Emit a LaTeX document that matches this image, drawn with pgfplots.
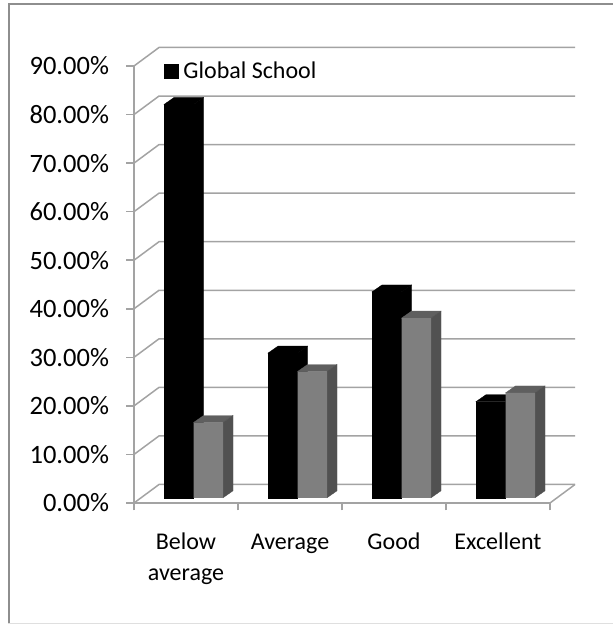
\documentclass[border=0pt]{standalone}
\usepackage{pgfplots}
\pgfplotsset{compat=1.18}
\usepackage{fontspec}
\setmainfont{Carlito}
\definecolor{gridgray}{HTML}{A3A3A3}
\definecolor{framegray}{HTML}{8E8E8E}
\definecolor{barfront}{HTML}{7F7F7F}
\definecolor{bartop}{HTML}{5F5F5F}
\definecolor{barside}{HTML}{515151}
\newcommand{\lblstrut}{\rule{0pt}{17pt}}
% Top and side faces of one 3D column: {category}{value}{left edge offset}{right edge offset}{top}{side}
\newcommand{\columnfaces}[6]{%
  \filldraw[fill=#5,draw=#5,line width=0.3pt] ([xshift=#3]axis cs:#1,#2) -- ([xshift=#3+10pt,yshift=7pt]axis cs:#1,#2)
        -- ([xshift=#4+10pt,yshift=7pt]axis cs:#1,#2) -- ([xshift=#4]axis cs:#1,#2) -- cycle;
  \filldraw[fill=#6,draw=#6,line width=0.3pt] ([xshift=#4]axis cs:#1,#2) -- ([xshift=#4+10pt,yshift=7pt]axis cs:#1,#2)
        -- ([xshift=#4+10pt,yshift=7pt]axis cs:#1,0) -- ([xshift=#4]axis cs:#1,0) -- cycle;
}
\begin{document}
\begin{tikzpicture}[x=1pt,y=1pt]
\path[use as bounding box] (0,0) rectangle (613,624);
% outer chart frame
\draw[framegray,line width=2pt] (8.7,-3) -- (8.7,620) -- (616,620);
\draw[gray!25,line width=0.8pt] (8,0.5) -- (613,0.5);
% axis frame: gridlines, ticks and labels
\begin{axis}[
  at={(134pt,121pt)}, anchor=origin, scale only axis,
  width=416pt, height=437pt,
  xmin=0, xmax=4, ymin=0, ymax=90,
  clip=false,
  axis x line*=bottom, axis y line*=left,
  axis line style={gridgray,line width=1.5pt,-},
  tick style={gridgray,line width=1.5pt},
  tick align=outside, major tick length=7.5pt,
  xtick={0,1,2,3,4}, xticklabels={},
  extra x ticks={0.5,1.5,2.5,3.5},
  extra x tick labels={\lblstrut Below\\average,\lblstrut Average,\lblstrut Good,\lblstrut Excellent},
  extra x tick style={major tick length=0pt,tick style={draw=none}},
  xticklabel style={font=\fontsize{24}{30.5}\selectfont,align=center,anchor=north,yshift=-26pt},
  ytick={0,10,...,90},
  yticklabel={\pgfmathprintnumber[assume math mode=true,fixed,fixed zerofill,precision=2]{\tick}\%},
  yticklabel style={font=\fontsize{26.5}{30}\selectfont,anchor=east,xshift=-14pt},
]
\pgfplotsinvokeforeach{0,10,20,30,40,50,60,70,80,90}{
  \draw[gridgray,line width=1.5pt] (axis cs:0,#1) -- ++(25pt,18.5pt) -- ++(416pt,0pt);
}
\draw[gridgray,line width=1.5pt] (axis cs:4,0) -- ++(25pt,18.5pt);
\end{axis}
% columns, standing on the plane just behind the front edge
\begin{axis}[
  at={(141.5pt,126.2pt)}, anchor=origin, scale only axis,
  width=416pt, height=437pt,
  xmin=0, xmax=4, ymin=0, ymax=90,
  hide axis, clip=false,
  ybar, bar width=29.5pt,
  legend style={at={(0.054,0.977)},anchor=west,draw=none,fill=none,inner sep=0pt,
    font=\fontsize{24}{26}\selectfont,legend cell align=left},
  legend image code/.code={\fill[black] (0pt,-7pt) rectangle (14pt,7pt);},
]
\columnfaces{0.5}{81}{-29.5pt}{0pt}{black}{black}
\columnfaces{1.5}{29.8}{-29.5pt}{0pt}{black}{black}
\columnfaces{2.5}{42.4}{-29.5pt}{0pt}{black}{black}
\columnfaces{3.5}{19.8}{-29.5pt}{0pt}{black}{black}
\addplot[fill=black,draw=black,line width=0.3pt,bar shift=-14.75pt] coordinates {(0.5,81) (1.5,29.8) (2.5,42.4) (3.5,19.8)};
\addlegendentry{\hspace{3pt}Global School}
\columnfaces{0.5}{15.5}{0pt}{29.5pt}{bartop}{barside}
\columnfaces{1.5}{26}{0pt}{29.5pt}{bartop}{barside}
\columnfaces{2.5}{37}{0pt}{29.5pt}{bartop}{barside}
\columnfaces{3.5}{21.6}{0pt}{29.5pt}{bartop}{barside}
\addplot[fill=barfront,draw=none,bar shift=14.75pt,forget plot] coordinates {(0.5,15.5) (1.5,26) (2.5,37) (3.5,21.6)};
\end{axis}
\end{tikzpicture}
\end{document}
